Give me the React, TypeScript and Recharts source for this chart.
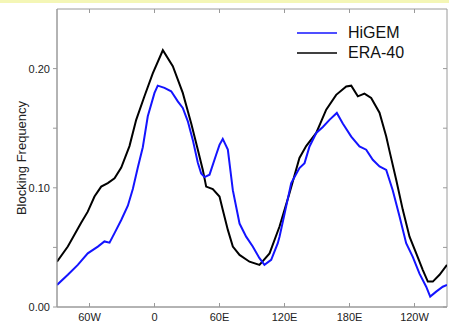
import React from 'react';
import { LineChart, Line, XAxis, YAxis, ReferenceArea, ReferenceLine } from 'recharts';

// ERA-40 (black)
const eraLon = [-90, -80, -67.7, -61.6, -55.4, -49.2, -43.1, -36.9, -30.7, -23.1, -16.9, -9.2, -1.6, 7.7, 16.9, 26.1, 33.9, 40, 44.6, 47.7, 53.8, 60, 63, 67.7, 72.3, 78.5, 87.7, 96.9, 106.2, 115.4, 124.6, 133.8, 140, 149.3, 158.5, 167.7, 177, 181.6, 187.7, 193.8, 200, 207.7, 213.9, 216.9, 223.1, 229.2, 235.4, 241.6, 247.7, 252.3, 256.9, 263.1, 270];
const eraVal = [0.038, 0.0507, 0.0706, 0.080, 0.0927, 0.101, 0.104, 0.108, 0.117, 0.135, 0.157, 0.177, 0.196, 0.2154, 0.202, 0.1796, 0.154, 0.132, 0.115, 0.101, 0.0989, 0.0927, 0.0815, 0.0647, 0.0507, 0.0437, 0.038, 0.0353, 0.045, 0.0675, 0.0955, 0.125, 0.135, 0.146, 0.1655, 0.178, 0.185, 0.1857, 0.1767, 0.179, 0.1754, 0.163, 0.143, 0.131, 0.1067, 0.0815, 0.059, 0.045, 0.031, 0.0213, 0.0213, 0.027, 0.0353];

// HiGEM (blue)
const higemLon = [-90, -80, -70.8, -61.6, -52.3, -46.2, -41.5, -36.9, -30.7, -24.6, -20, -15.4, -10.8, -6.2, 0, 3, 9.2, 15.4, 21.5, 26.1, 30.7, 35.4, 40, 43.1, 46.2, 50.8, 56.9, 60, 63, 67.7, 72.3, 78.5, 84.6, 90.7, 96.9, 101.5, 107.7, 113.8, 115.4, 120.5, 126.2, 133.8, 138.5, 143.1, 149.3, 155.4, 161.5, 168.3, 173.8, 181.6, 189.2, 195.4, 201.5, 207.7, 213.9, 219.9, 226.2, 232.3, 238.4, 244.6, 250.8, 254.5, 260, 266.1, 270];
const higemVal = [0.0185, 0.027, 0.0353, 0.045, 0.0507, 0.055, 0.054, 0.062, 0.073, 0.085, 0.099, 0.117, 0.134, 0.16, 0.1796, 0.1857, 0.1838, 0.181, 0.1725, 0.167, 0.156, 0.140, 0.121, 0.112, 0.109, 0.111, 0.1277, 0.136, 0.141, 0.132, 0.098, 0.070, 0.059, 0.0507, 0.041, 0.0353, 0.0395, 0.0535, 0.059, 0.080, 0.104, 0.1165, 0.1207, 0.1347, 0.146, 0.151, 0.157, 0.1628, 0.154, 0.143, 0.1347, 0.132, 0.1235, 0.118, 0.115, 0.098, 0.076, 0.0535, 0.042, 0.028, 0.017, 0.0087, 0.0129, 0.017, 0.0185];

const xDomain = [-90, 270];
const yDomain = [0, 0.25];
const xTickValues = [-60, 0, 60, 120, 180, 240];
const xTickLabels = ['60W', '0', '60E', '120E', '180E', '120W'];
const yTickValues = [0, 0.05, 0.1, 0.15, 0.2];
const yTickLabels = ['0.00', '', '0.10', '', '0.20'];

const seriesNames = ['HiGEM', 'ERA-40'];
const seriesColors = ['#1414ff', '#000000'];

const eraData = eraLon.map((lon, i) => ({ lon, val: eraVal[i] }));
const higemData = higemLon.map((lon, i) => ({ lon, val: higemVal[i] }));

const AXIS = '#9a9a9a';
const FONT = '"Liberation Sans", Arial, Helvetica, sans-serif';

const BottomTick = (props: any) => {
  const { x, y, payload } = props;
  const i = xTickValues.indexOf(payload.value);
  return (
    <g>
      <line x1={x} y1={y} x2={x} y2={y - 4} stroke={AXIS} />
      <text x={x} y={y + 14} textAnchor="middle" fontSize={11} fill="#222" fontFamily={FONT}>
        {i >= 0 ? xTickLabels[i] : ''}
      </text>
    </g>
  );
};

const LeftTick = (props: any) => {
  const { x, y, payload } = props;
  const i = yTickValues.indexOf(payload.value);
  return (
    <g>
      <line x1={x - 4} y1={y} x2={x} y2={y} stroke={AXIS} />
      <text x={x - 7} y={y + 4} textAnchor="end" fontSize={11} fill="#222" fontFamily={FONT}>
        {i >= 0 ? yTickLabels[i] : ''}
      </text>
    </g>
  );
};

// short tick at the top of a vertical reference line
const TopTickShape = (props: any) => {
  const { x1, y1, y2 } = props;
  const top = Math.min(y1, y2);
  return <line x1={x1} y1={top} x2={x1} y2={top + 4} stroke={AXIS} />;
};

// short tick at the right end of a horizontal reference line
const RightTickShape = (props: any) => {
  const { x1, x2, y1 } = props;
  const right = Math.max(x1, x2);
  return <line x1={right - 4} y1={y1} x2={right} y2={y1} stroke={AXIS} />;
};

export default function App() {
  return (
    <div style={{ position: 'absolute', left: 0, top: 0, width: 449, height: 322, background: '#fff' }}>
      <div style={{ position: 'absolute', left: 0, top: 0, width: 449, height: 3, background: '#f4f6b6' }} />
      <LineChart width={449} height={322} margin={{ top: 9, right: 2, bottom: 0, left: 0 }}>
        <XAxis
          type="number"
          dataKey="lon"
          domain={xDomain}
          ticks={xTickValues}
          height={15}
          tickSize={0}
          tickMargin={0}
          tickLine={false}
          axisLine={{ stroke: AXIS }}
          tick={<BottomTick />}
          allowDataOverflow
        />
        <YAxis
          type="number"
          domain={yDomain}
          ticks={yTickValues}
          width={57}
          tickSize={0}
          tickMargin={0}
          tickLine={false}
          axisLine={{ stroke: AXIS }}
          tick={<LeftTick />}
          allowDataOverflow
        />
        <ReferenceArea
          x1={xDomain[0]}
          x2={xDomain[1]}
          y1={yDomain[0]}
          y2={yDomain[1]}
          fill="none"
          fillOpacity={0}
          stroke={AXIS}
          strokeWidth={1}
          ifOverflow="visible"
        />
        {xTickValues.map((v) => (
          <ReferenceLine key={'tx' + v} x={v} stroke={AXIS} shape={<TopTickShape />} ifOverflow="visible" />
        ))}
        {yTickValues.map((v) => (
          <ReferenceLine key={'ty' + v} y={v} stroke={AXIS} shape={<RightTickShape />} ifOverflow="visible" />
        ))}
        <Line
          data={eraData}
          dataKey="val"
          name={seriesNames[1]}
          stroke={seriesColors[1]}
          strokeWidth={2}
          dot={false}
          type="linear"
          isAnimationActive={false}
        />
        <Line
          data={higemData}
          dataKey="val"
          name={seriesNames[0]}
          stroke={seriesColors[0]}
          strokeWidth={2}
          dot={false}
          type="linear"
          isAnimationActive={false}
        />
      </LineChart>
      <div
        style={{
          position: 'absolute',
          left: 21,
          top: 158,
          transform: 'translate(-50%, -50%) rotate(-90deg)',
          whiteSpace: 'nowrap',
          fontFamily: FONT,
          fontSize: 13,
          color: '#222',
        }}
      >
        Blocking Frequency
      </div>
      {seriesNames.map((name, i) => (
        <div
          key={name}
          style={{ position: 'absolute', left: 297, top: 33 + i * 20 - 10, height: 20, display: 'flex', alignItems: 'center' }}
        >
          <svg width={40} height={4} style={{ display: 'block' }}>
            <line x1={0} y1={2} x2={40} y2={2} stroke={seriesColors[i]} strokeWidth={1.5} />
          </svg>
          <span style={{ marginLeft: 11, fontFamily: FONT, fontSize: 16, color: '#111', lineHeight: '20px' }}>{name}</span>
        </div>
      ))}
    </div>
  );
}
